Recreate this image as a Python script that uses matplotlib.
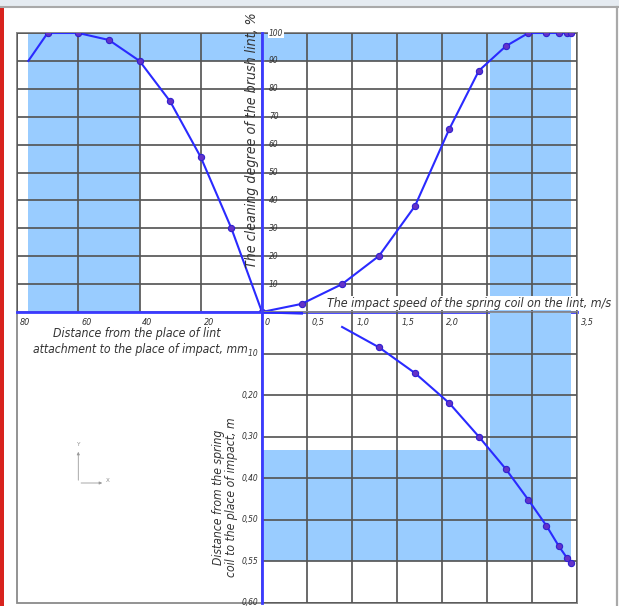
import numpy as np
import matplotlib
matplotlib.use("Agg")
import matplotlib.pyplot as plt
from matplotlib.patches import Rectangle

# ---- data -------------------------------------------------------------
# cleaning degree vs distance from the lint attachment point
distance_mm = [76.3, 70, 60, 50, 40, 30, 20, 10, 0]
cleaning_by_distance = [90, 100, 100, 97.5, 90, 75.5, 55.5, 30, 0]

# cleaning degree vs impact speed of the spring coil
speed_ms = [0, 0.44, 0.89, 1.30, 1.70, 2.08, 2.41, 2.71, 2.96, 3.16, 3.30, 3.39, 3.43]
cleaning_by_speed = [0, 2.9, 10.0, 20.1, 38.0, 65.5, 86.5, 95.3, 100, 100, 100, 100, 100]

# distance from the spring coil to the impact point vs impact speed
lead_speed_ms = [0, 0.44]
lead_distance_m = [0, 0.003]
coil_speed_ms = [0.89, 1.30, 1.70, 2.08, 2.41, 2.71, 2.96, 3.16, 3.30, 3.39, 3.43]
coil_distance_m = [0.036, 0.085, 0.147, 0.219, 0.300, 0.378, 0.452, 0.507, 0.532, 0.546, 0.552]

# recommended zones
distance_zone = (40, 76.3)
speed_zone = (2.53, 3.43)
cleaning_zone = (90, 100)
coil_zone = (0.332, 0.55)

# axis ticks
distance_ticks = [80, 60, 40, 20, 0]
cleaning_ticks = [10, 20, 30, 40, 50, 60, 70, 80, 90, 100]
speed_ticks = [0.5, 1.0, 1.5, 2.0, 2.5, 3.0, 3.5]
speed_labels = ["0,5", "1,0", "1,5", "2,0", "2,5", "3,0", "3,5"]
coil_ticks = [0.10, 0.20, 0.30, 0.40, 0.50, 0.55, 0.60]
coil_labels = ["0,10", "0,20", "0,30", "0,40", "0,50", "0,55", "0,60"]

# ---- style ------------------------------------------------------------
W, H = 619, 606
FONT = ["Liberation Sans Narrow", "DejaVu Sans"]
plt.rcParams["font.family"] = FONT
plt.rcParams["font.style"] = "italic"
plt.rcParams["font.stretch"] = "condensed"

ZONE = "#99ccff"
GRID = "#555555"
FRAME = "#8a8a8a"
CURVE = "#2a2aff"
AXIS = "#3a3aff"
TEXT = "#333333"
MK = dict(marker="o", markersize=4.5, markerfacecolor="#6432c8",
          markeredgecolor="#3020d0", markeredgewidth=0.8)

fig = plt.figure(figsize=(W / 100, H / 100), dpi=100)


def box(x0, y0, x1, y1):
    """Figure-fraction rectangle from pixel edges (origin top-left)."""
    return [x0 / W, 1 - y1 / H, (x1 - x0) / W, (y1 - y0) / H]


def fpos(x, y):
    return x / W, 1 - y / H


# background: window strip, frame, side bars
bg = fig.add_axes([0, 0, 1, 1])
bg.set_xlim(0, W)
bg.set_ylim(H, 0)
bg.axis("off")
bg.add_patch(Rectangle((0, 0), W, 6.5, color="#e5ebf1", lw=0))
bg.plot([0, W], [6.8, 6.8], color="#a9a9a9", lw=1.5)
bg.add_patch(Rectangle((0, 7), 3.5, H, color="#d8231e", lw=0))
bg.plot([617.2, 617.2], [7, H], color="#a9a9a9", lw=1.6)
bg.add_patch(Rectangle((17, 33), 559.5, 570, fill=False, ec=FRAME, lw=1.3, zorder=1))

# small coordinate icon in the empty quadrant
bg.annotate("", xy=(78.3, 449), xytext=(78.3, 483),
            arrowprops=dict(arrowstyle="-|>", color="#9a9a9a", lw=0.6,
                            mutation_scale=4))
bg.annotate("", xy=(105, 483), xytext=(78.3, 483),
            arrowprops=dict(arrowstyle="-|>", color="#9a9a9a", lw=0.6,
                            mutation_scale=4))
bg.text(78.3, 447, "Y", fontsize=4.5, color="#8a8a8a", ha="center", va="bottom",
        style="normal")
bg.text(106, 480, "X", fontsize=4.5, color="#8a8a8a", ha="left", va="center",
        style="normal")


def style_grid(ax):
    ax.set_axisbelow(False)
    ax.grid(True, color=GRID, lw=1.3, alpha=0.95)
    ax.tick_params(length=0, labelbottom=False, labelleft=False)
    for s in ax.spines.values():
        s.set_color(FRAME)
        s.set_linewidth(1.3)
    ax.patch.set_alpha(0)


# ---- upper-left: cleaning vs distance ---------------------------------
ax_ul = fig.add_axes(box(17, 33, 262, 312))
ax_ul.set_xlim(80, 0)
ax_ul.set_ylim(0, 100)
ax_ul.set_xticks(distance_ticks)
ax_ul.set_yticks(cleaning_ticks)
style_grid(ax_ul)
ax_ul.fill_betweenx([0, 100], distance_zone[0], distance_zone[1], color=ZONE, lw=0, zorder=1)
ax_ul.fill_between([distance_zone[1], 0], cleaning_zone[0], cleaning_zone[1],
                   color=ZONE, lw=0, zorder=1)
ax_ul.plot(distance_mm, cleaning_by_distance, color=CURVE, lw=1.5, zorder=3,
           markevery=list(range(1, len(distance_mm))), **MK)
ax_ul.axhline(0, color=AXIS, lw=2, zorder=4, clip_on=False)
for v in distance_ticks:
    ax_ul.annotate(f"{v}", xy=(v, 0), xytext=(2, -4), textcoords="offset points",
                   ha="left", va="top", fontsize=6.5, color=TEXT)

# ---- upper-right: cleaning vs speed -----------------------------------
ax_ur = fig.add_axes(box(262, 33, 577, 312))
ax_ur.set_xlim(0, 3.5)
ax_ur.set_ylim(0, 100)
ax_ur.set_xticks(speed_ticks)
ax_ur.set_yticks(cleaning_ticks)
style_grid(ax_ur)
ax_ur.fill_betweenx([0, 100], speed_zone[0], speed_zone[1], color=ZONE, lw=0, zorder=1)
ax_ur.fill_between([0, speed_zone[1]], cleaning_zone[0], cleaning_zone[1],
                   color=ZONE, lw=0, zorder=1)
ax_ur.plot(speed_ms, cleaning_by_speed, color=CURVE, lw=1.5, zorder=3, **MK)
ax_ur.axhline(0, color=AXIS, lw=2, zorder=4, clip_on=False)
ax_ur.axvline(0, color=AXIS, lw=2, zorder=4, clip_on=False)
for v in cleaning_ticks:
    ax_ur.annotate("", xy=(0, v), xytext=(4, 0), textcoords="offset points",
                   arrowprops=dict(arrowstyle="-", color="#7070b0", lw=0.8))
    ax_ur.annotate(f"{v}", xy=(0, v), xytext=(5, 0), textcoords="offset points",
                   ha="left", va="center", fontsize=6, color=TEXT, zorder=5,
                   bbox=dict(boxstyle="square,pad=0.1", fc="white", ec="none")
                   if v == 100 else None)
for v, lab in zip(speed_ticks, speed_labels):
    ax_ur.annotate(lab, xy=(v, 0), xytext=(3, -4), textcoords="offset points",
                   ha="left", va="top", fontsize=6.5, color=TEXT)

# ---- lower-right: coil distance vs speed ------------------------------
def coil_fwd(r):
    r = np.asarray(r, dtype=float)
    return np.where(r <= 0.5, r * 10, 5 + (r - 0.5) * 20)


def coil_inv(p):
    p = np.asarray(p, dtype=float)
    return np.where(p <= 5, p / 10, 0.5 + (p - 5) / 20)


ax_lr = fig.add_axes(box(262, 312, 577, 603))
ax_lr.set_yscale("function", functions=(coil_fwd, coil_inv))
ax_lr.set_xlim(0, 3.5)
ax_lr.set_ylim(0.60, 0)
ax_lr.set_xticks(speed_ticks)
ax_lr.set_yticks(coil_ticks)
ax_lr.yaxis.set_minor_locator(matplotlib.ticker.NullLocator())
style_grid(ax_lr)
ax_lr.fill_betweenx([0, coil_zone[1]], speed_zone[0], speed_zone[1], color=ZONE, lw=0, zorder=1)
ax_lr.fill_between([0, speed_zone[0]], coil_zone[0], coil_zone[1], color=ZONE, lw=0, zorder=1)
ax_lr.plot(lead_speed_ms, lead_distance_m, color=CURVE, lw=2, zorder=3)
ax_lr.plot(coil_speed_ms, coil_distance_m, color=CURVE, lw=1.5, zorder=3,
           markevery=list(range(1, len(coil_speed_ms))), **MK)
ax_lr.axvline(0, color=AXIS, lw=2, zorder=4, clip_on=False)
for v, lab in zip(coil_ticks, coil_labels):
    ax_lr.annotate(lab, xy=(0, v), xytext=(-3, 0), textcoords="offset points",
                   ha="right", va="center", fontsize=6, color=TEXT)

# ---- titles -----------------------------------------------------------
white = dict(boxstyle="square,pad=0.05", fc="white", ec="none")
titles = [
    # (text object, target length in pixels along the text direction)
    (fig.text(*fpos(252, 140), "The cleaning degree of the brush lint, %", rotation=90,
              ha="center", va="center", fontsize=10, color=TEXT), 256),
    (fig.text(*fpos(327, 303), "The impact speed of the spring coil on the lint, m/s",
              ha="left", va="center", fontsize=10, color=TEXT, zorder=6, bbox=white), 285),
    (fig.text(*fpos(137, 334), "Distance from the place of lint",
              ha="center", va="center", fontsize=10, color=TEXT), 168),
    (fig.text(*fpos(140, 350), "attachment to the place of impact, mm",
              ha="center", va="center", fontsize=10, color=TEXT, zorder=6, bbox=white), 214),
    (fig.text(*fpos(225, 497), "Distance from the spring\ncoil to the place of impact, m",
              rotation=90, ha="center", va="center", multialignment="center",
              fontsize=10, color=TEXT, linespacing=1.0), 160),
]

# scale each title so it spans the intended length
fig.canvas.draw()
renderer = fig.canvas.get_renderer()
for txt, length in titles:
    ext = txt.get_window_extent(renderer)
    cur = ext.height if txt.get_rotation() == 90 else ext.width
    txt.set_fontsize(txt.get_fontsize() * length / cur)

fig.savefig("out.png", dpi=100)
